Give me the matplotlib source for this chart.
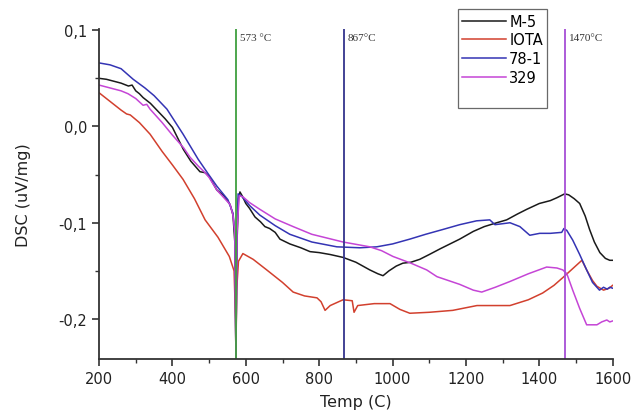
import matplotlib
matplotlib.use("Agg")
import matplotlib.pyplot as plt
from matplotlib.ticker import FuncFormatter, MultipleLocator
from matplotlib.lines import Line2D

# ---- data ----
m5_T = [200, 220, 240, 260, 280, 290, 300, 310, 320, 340, 360, 380, 400, 430, 450, 475, 489,
        500, 521, 540, 557, 565, 570, 573, 576, 580, 584, 590, 600, 610, 625, 640, 652, 665,
        680, 693, 720, 750, 775, 800, 830, 865, 900, 938, 960, 974, 990, 1010, 1028, 1050,
        1074, 1100, 1130, 1183, 1220, 1250, 1284, 1311, 1340, 1366, 1400, 1430, 1448, 1469,
        1480, 1495, 1510, 1525, 1537, 1550, 1565, 1580, 1592, 1600]
m5_v = [0.050, 0.049, 0.047, 0.045, 0.042, 0.043, 0.037, 0.034, 0.030, 0.024, 0.016, 0.008,
        -0.001, -0.024, -0.036, -0.047, -0.048, -0.052, -0.066, -0.072, -0.081, -0.092, -0.12,
        -0.240, -0.12, -0.075, -0.068, -0.072, -0.080, -0.085, -0.094, -0.099, -0.104, -0.106,
        -0.110, -0.117, -0.122, -0.126, -0.130, -0.131, -0.133, -0.136, -0.141, -0.149, -0.153,
        -0.155, -0.150, -0.145, -0.142, -0.141, -0.138, -0.133, -0.127, -0.117, -0.109, -0.104,
        -0.100, -0.097, -0.091, -0.086, -0.080, -0.077, -0.074, -0.070, -0.071, -0.075, -0.080,
        -0.093, -0.107, -0.120, -0.131, -0.137, -0.139, -0.139]

iota_T = [200, 230, 260, 275, 285, 310, 339, 372, 400, 429, 460, 489, 524, 555, 568, 572, 573,
          575, 580, 592, 620, 657, 700, 729, 760, 794, 805, 816, 830, 865, 890, 895, 905, 950,
          993, 1020, 1047, 1100, 1164, 1230, 1320, 1370, 1409, 1440, 1464, 1490, 1516, 1529,
          1545, 1557, 1575, 1590, 1600]
iota_v = [0.035, 0.026, 0.017, 0.013, 0.012, 0.004, -0.008, -0.026, -0.040, -0.055, -0.075,
          -0.097, -0.115, -0.135, -0.150, -0.200, -0.240, -0.170, -0.140, -0.132, -0.138, -0.149,
          -0.162, -0.172, -0.176, -0.178, -0.182, -0.191, -0.186, -0.180, -0.181, -0.193, -0.186,
          -0.184, -0.184, -0.190, -0.194, -0.193, -0.191, -0.186, -0.186, -0.180, -0.173, -0.165,
          -0.157, -0.148, -0.139, -0.149, -0.160, -0.166, -0.170, -0.168, -0.165]

b78_T = [200, 230, 260, 293, 325, 350, 385, 429, 470, 497, 521, 551, 565, 570, 573, 576, 579,
         590, 610, 638, 680, 720, 780, 848, 911, 957, 1000, 1047, 1090, 1137, 1183, 1229, 1265,
         1279, 1300, 1320, 1347, 1374, 1401, 1430, 1461, 1467, 1475, 1491, 1510, 1529, 1545,
         1564, 1575, 1585, 1592, 1600]
b78_v = [0.066, 0.064, 0.060, 0.049, 0.040, 0.032, 0.018, -0.008, -0.034, -0.049, -0.062,
         -0.076, -0.090, -0.11, -0.240, -0.11, -0.070, -0.073, -0.082, -0.092, -0.103, -0.112,
         -0.120, -0.125, -0.126, -0.125, -0.122, -0.117, -0.112, -0.107, -0.102, -0.098, -0.097,
         -0.102, -0.101, -0.100, -0.104, -0.113, -0.111, -0.111, -0.110, -0.106, -0.108, -0.118,
         -0.133, -0.149, -0.162, -0.170, -0.167, -0.169, -0.167, -0.168]

s329_T = [200, 230, 260, 279, 300, 320, 330, 339, 372, 400, 430, 448, 470, 489, 500, 521, 557,
          565, 570, 573, 576, 582, 592, 610, 638, 680, 729, 780, 865, 938, 970, 1001, 1050, 1093,
          1121, 1183, 1220, 1243, 1280, 1320, 1370, 1420, 1448, 1464, 1475, 1491, 1510, 1529,
          1545, 1557, 1570, 1584, 1592, 1600]
s329_v = [0.043, 0.040, 0.037, 0.034, 0.029, 0.022, 0.023, 0.018, 0.004, -0.009, -0.022,
          -0.032, -0.041, -0.048, -0.053, -0.066, -0.081, -0.092, -0.11, -0.240, -0.11, -0.072,
          -0.073, -0.079, -0.086, -0.096, -0.104, -0.112, -0.120, -0.125, -0.129, -0.135, -0.142,
          -0.149, -0.156, -0.164, -0.170, -0.172, -0.167, -0.161, -0.153, -0.146, -0.147, -0.149,
          -0.153, -0.170, -0.189, -0.206, -0.206, -0.206, -0.203, -0.201, -0.203, -0.202]

series_names = ["M-5", "IOTA", "78-1", "329"]
series_colors = ["#1a1a1a", "#d2402e", "#3434b4", "#c545d6"]

vlines_T = [573, 867, 1470]
vline_labels = ["573 °C", "867°C", "1470°C"]
vline_colors = ["#3f9f3f", "#34348c", "#a64ed6"]

x_ticks = [200, 400, 600, 800, 1000, 1200, 1400, 1600]
y_ticks = [-0.2, -0.1, 0.0, 0.1]

# ---- plot ----
fig = plt.figure(figsize=(6.31, 4.14), dpi=100)
ax = fig.add_axes([0.157, 0.130, 0.814, 0.797])

data = [(m5_T, m5_v), (iota_T, iota_v), (b78_T, b78_v), (s329_T, s329_v)]
handles = []
for (T, v), name, c in zip(data, series_names, series_colors):
    h, = ax.plot(T, v, color=c, lw=1.1, label=name)
    handles.append(h)

for T, lab, c in zip(vlines_T, vline_labels, vline_colors):
    ax.axvline(T, color=c, lw=1.3)
    ax.text(T + 10, 0.092, lab, family="Liberation Serif", fontsize=8,
            color="#333333", ha="left", va="center")

ax.set_xlim(200, 1600)
ax.set_ylim(-0.2417, 0.101)
ax.set_xticks(x_ticks)
ax.set_yticks(y_ticks)
ax.xaxis.set_minor_locator(MultipleLocator(100))
ax.yaxis.set_minor_locator(MultipleLocator(0.05))
ax.yaxis.set_major_formatter(FuncFormatter(lambda v, p: f"{v:.1f}".replace(".", ",").replace("-0,0", "0,0")))

for s in ["top", "right"]:
    ax.spines[s].set_visible(False)
for s in ["left", "bottom"]:
    ax.spines[s].set_color("#333333")
    ax.spines[s].set_linewidth(1.3)
ax.tick_params(which="major", direction="out", length=5, width=1.2, color="#333333",
               labelsize=10.5, labelcolor="#222222")
ax.tick_params(which="minor", direction="out", length=3, width=1.0, color="#333333")

ax.set_xlabel("Temp (C)", fontsize=11.5, color="#222222", labelpad=6)
ax.set_ylabel("DSC (uV/mg)", fontsize=11.5, color="#222222", labelpad=20)

blank = Line2D([], [], color="none")
leg = fig.legend(handles + [blank], series_names + [" "], loc="upper left",
                 bbox_to_anchor=(0.726, 0.975), fontsize=10.5, frameon=True, fancybox=False,
                 handlelength=3.0, handletextpad=0.2, labelspacing=0.25, borderpad=0.3,
                 borderaxespad=0)
leg.get_frame().set_edgecolor("#444444")
leg.get_frame().set_linewidth(0.9)

fig.savefig("out.png", dpi=100)
